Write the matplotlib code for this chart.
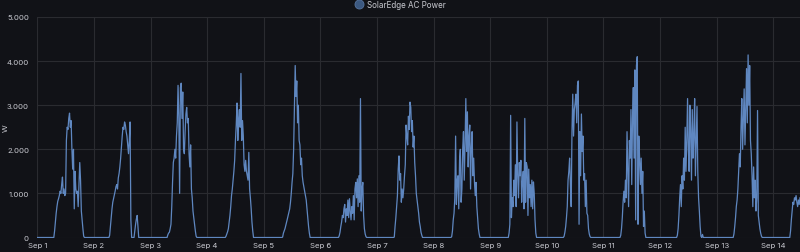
import matplotlib
matplotlib.use("Agg")
import matplotlib.pyplot as plt
import matplotlib.dates as mdates
from matplotlib.lines import Line2D
from matplotlib.ticker import FuncFormatter
import numpy as np
import pandas as pd

# ---------------- data (W), 20-minute samples starting 06:00 each day ----------------
series_name = "SolarEdge AC Power"
y_label = "W"
first_day = "2023-09-01"
sample_start = "06:00"
sample_step_min = 20

sep01 = [0, 0, 0, 0, 150, 350, 550, 700, 820, 880, 950, 1050, 1000, 1200, 1370, 1000, 1100, 950, 1000,
         2200, 2500, 2450, 2700, 2820, 2500, 2650, 2000, 1550, 2000, 650, 1500, 1100, 1000, 1050, 700,
         1200, 1700, 1300, 600, 400, 200, 30, 0]
sep02 = [0, 0, 50, 250, 450, 650, 800, 880, 950, 1050, 1150, 1200, 1100, 1350, 1450, 1600, 1800, 2050,
         2300, 2500, 2450, 2620, 2550, 2400, 2300, 2100, 1900, 2200, 2620, 400, 0, 0, 0, 0, 150, 300, 420,
         500, 250, 0]
sep03 = [0, 0, 0, 0, 60, 100, 120, 200, 300, 700, 1250, 1700, 1800, 2000, 1800, 2300, 2600, 3450, 2700,
         1000, 3400, 3500, 2700, 3300, 2000, 1900, 2400, 2800, 2950, 2600, 2700, 1900, 1600, 2100, 1100,
         900, 600, 450, 300, 150, 30, 0]
sep04 = [0, 0, 0, 0, 0, 0, 30, 80, 130, 200, 350, 500, 700, 950, 1100, 1300, 1500, 1750, 2200, 2550,
         3050, 2200, 2700, 2900, 2500, 3720, 2200, 2650, 2300, 1650, 1500, 1750, 1500, 1400, 1300, 1930,
         1100, 900, 650, 350, 150, 0]
sep05 = [0, 0, 0, 0, 0, 0, 10, 100, 150, 200, 270, 350, 420, 500, 580, 650, 800, 1000, 1250, 1450, 2000,
         2900, 3900, 3200, 3550, 2600, 3000, 2200, 2100, 1650, 1800, 1400, 1250, 1150, 1050, 950, 850, 650,
         450, 250, 100, 0]
sep06 = [0, 0, 0, 0, 0, 0, 40, 120, 250, 350, 500, 450, 650, 750, 350, 650, 500, 850, 450, 880, 600, 400,
         700, 550, 950, 400, 1100, 1250, 900, 1330, 700, 1400, 800, 3150, 600, 1100, 1250, 500, 200, 80,
         20, 0]
sep07 = [0, 0, 0, 0, 10, 250, 450, 700, 950, 1550, 1850, 1300, 1450, 800, 1100, 900, 1100, 1400, 1650,
         2550, 2300, 2100, 2750, 2450, 3070, 2950, 2400, 2650, 2050, 2300, 1700, 1400, 1000, 850, 700, 550,
         350, 250, 120, 50, 0]
sep08 = [0, 0, 0, 0, 0, 20, 150, 400, 550, 900, 2300, 750, 1300, 1400, 650, 1750, 2000, 800, 1100, 2000,
         2400, 1300, 2100, 3150, 1950, 2850, 1600, 2300, 2550, 1100, 2050, 2400, 1400, 1800, 1250, 950,
         1250, 700, 450, 200, 80, 0]
sep09 = [0, 0, 0, 0, 0, 0, 100, 300, 2770, 450, 900, 700, 1300, 950, 1650, 700, 2620, 1400, 900, 1700,
         1400, 1750, 800, 1250, 1500, 650, 2700, 800, 1700, 1600, 500, 1550, 900, 1200, 700, 1300, 650,
         1260, 1000, 400, 100, 0]
sep10 = [0, 0, 0, 0, 30, 120, 250, 450, 700, 1300, 1500, 1800, 1200, 700, 2400, 3250, 2300, 2900, 3050,
         3250, 2600, 3450, 3550, 300, 2400, 1400, 2800, 1950, 2300, 1300, 1450, 700, 1300, 550, 500, 200,
         80, 20, 0]
sep11 = [0, 0, 0, 0, 50, 200, 450, 800, 1050, 800, 1300, 900, 2400, 1500, 700, 2200, 1800, 2900, 1200,
         2700, 3400, 1800, 3800, 400, 3900, 4100, 300, 2300, 1800, 1200, 1800, 1000, 1500, 250, 600, 100, 0]
sep12 = [0, 0, 0, 0, 50, 200, 500, 900, 1200, 700, 1400, 1100, 1800, 1300, 2500, 1500, 2200, 3150, 2000,
         1500, 3000, 2400, 1300, 2900, 1800, 2300, 3150, 1400, 2200, 2970, 1500, 900, 600, 250, 30, 0, 70, 0]
sep13 = [0, 0, 0, 0, 80, 250, 450, 700, 850, 1100, 1500, 1900, 1600, 2500, 3150, 2000, 2700, 3370, 2100,
         2900, 3830, 2600, 4140, 3000, 3900, 2200, 1900, 1400, 700, 1600, 900, 1300, 600, 900, 2880, 500,
         350, 200, 100, 30, 0]
sep14 = [0, 0, 0, 0, 150, 400, 600, 800, 750, 900, 850, 950, 800, 700, 850, 750, 900]

days = [sep01, sep02, sep03, sep04, sep05, sep06, sep07, sep08, sep09, sep10, sep11, sep12, sep13, sep14]

y_ticks = [0, 1000, 2000, 3000, 4000, 5000]

# ---------------- build time series ----------------
times = [pd.Timestamp(first_day)]
values = [0]
for d, vals in enumerate(days):
    base = pd.Timestamp(first_day) + pd.Timedelta(days=d) + pd.Timedelta(sample_start + ":00")
    for k, v in enumerate(vals):
        times.append(base + pd.Timedelta(minutes=sample_step_min * k))
        values.append(v)

# ---------------- style ----------------
bg = "#111217"
grid_c = "#2a2b30"
text_c = "#c8c9d0"
line_c = "#5f87c0"
font = ["Inter", "DejaVu Sans"]
plt.rcParams["font.family"] = font

W, H = 800, 253
fig = plt.figure(figsize=(W / 100, H / 100), dpi=100, facecolor=bg)
ax = fig.add_axes([37.3 / W, 1 - 238.5 / H, (W - 37.3) / W, (238.5 - 18) / H])
ax.set_facecolor(bg)

ax.plot(times, values, color=line_c, lw=0.9, solid_joinstyle="round")

ax.set_xlim(times[0], times[-1])
ax.set_ylim(y_ticks[0], y_ticks[-1])
ax.set_yticks(y_ticks)
ax.yaxis.set_major_formatter(FuncFormatter(lambda v, p: f"{int(v):,}".replace(",", ".")))
ax.xaxis.set_major_locator(mdates.DayLocator())
ax.xaxis.set_major_formatter(FuncFormatter(lambda v, p: "Sep " + str(mdates.num2date(v).day)))

ax.grid(True, color=grid_c, lw=0.8)
ax.set_axisbelow(True)
for s in ax.spines.values():
    s.set_visible(False)
ax.tick_params(axis="both", length=0, colors=text_c, labelsize=5.6)
ax.tick_params(axis="y", pad=6.0)
ax.tick_params(axis="x", pad=3.2)

fig.text(5.5 / W, 1 - 128 / H, y_label, rotation=90, color=text_c, fontsize=5.6,
         ha="center", va="center")

handle = Line2D([], [], marker="o", linestyle="none", markersize=6.5,
                markerfacecolor="#3b5880", markeredgecolor="#56739e", markeredgewidth=0.6)
fig.legend([handle], [series_name], loc="center", bbox_to_anchor=(0.5, 1 - 5.5 / H),
           frameon=False, fontsize=5.8, labelcolor=text_c, handletextpad=0.5,
           handlelength=1.0, borderpad=0, borderaxespad=0)

fig.savefig("out.png", dpi=100, facecolor=bg)
